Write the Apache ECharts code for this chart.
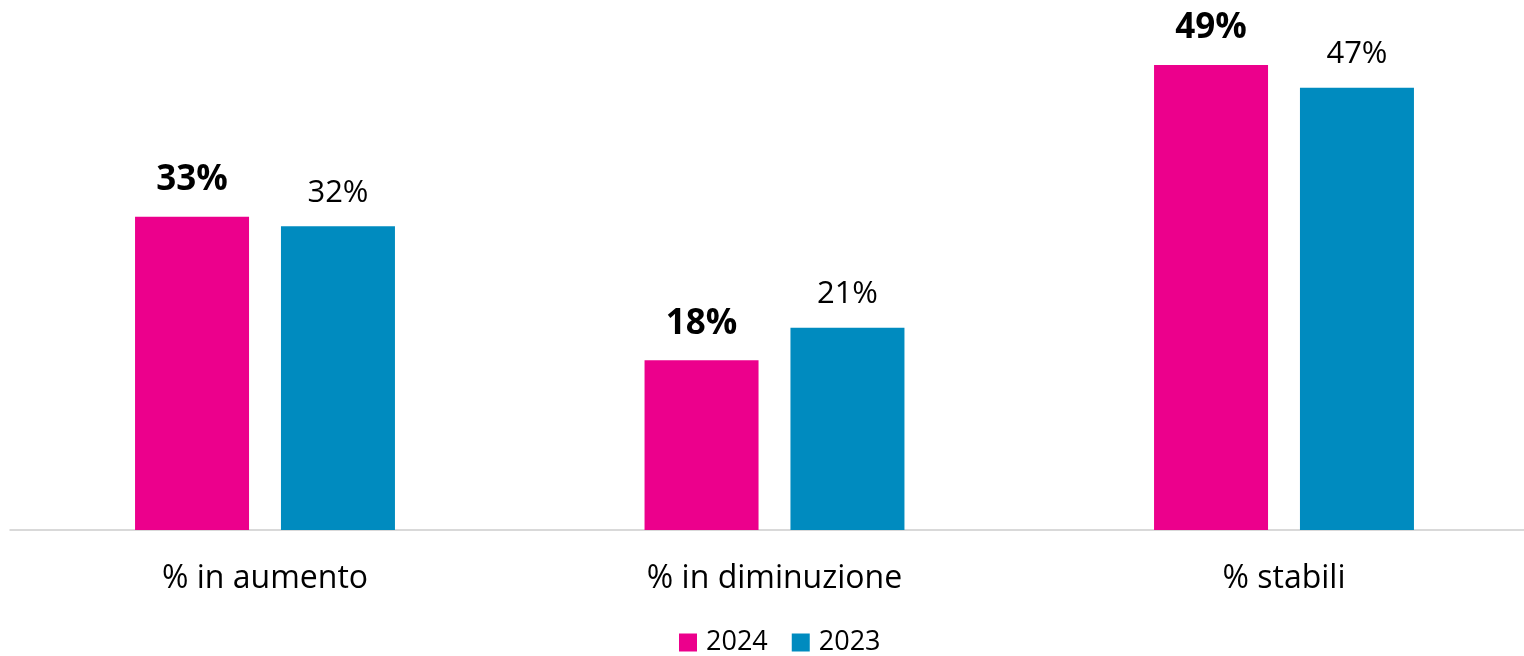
<!DOCTYPE html>
<html><head><meta charset="utf-8">
<script src="https://cdn.jsdelivr.net/npm/echarts@6/dist/echarts.min.js"></script>
<style>html,body{margin:0;padding:0;background:#fff}#c{width:1524px;height:656px}</style>
</head><body><div id="c"></div>
<script>
const categories = ['% in aumento', '% in diminuzione', '% stabili'];
const series2024 = [33.0, 17.9, 49.0];
const series2023 = [32.0, 21.3, 46.6];
const seriesNames = ['2024', '2023'];
const font = '"Open Sans", "Liberation Sans", sans-serif';
const pct = p => Math.round(p.value) + '%';
const chart = echarts.init(document.getElementById('c'));
chart.setOption({
  animation: false,
  textStyle: { fontFamily: font },
  grid: { left: 10.25, top: 55.5, width: 1528.5, bottom: 126, containLabel: false, outerBoundsMode: 'none' },
  legend: {
    bottom: -5, left: 674, itemWidth: 18, itemHeight: 18, itemGap: 24,
    icon: 'rect',
    textStyle: { fontSize: 27, color: '#000', fontFamily: font, padding: [0,0,0,4] },
    data: seriesNames
  },
  xAxis: {
    type: 'category', data: categories,
    axisLine: { lineStyle: { color: '#d9d9d9', width: 2 } },
    axisTick: { show: false },
    axisLabel: { fontSize: 32, color: '#000', margin: 33, fontFamily: font }
  },
  yAxis: { type: 'value', min: 0, max: 50, show: false, splitLine: { show: false } },
  series: [
    { name: seriesNames[0], type: 'bar', data: series2024, barWidth: 114, barGap: '28%',
      itemStyle: { color: '#EC008C' },
      label: { show: true, position: 'top', distance: 19, fontSize: 35, fontWeight: 'bold', color: '#000', formatter: pct, fontFamily: font } },
    { name: seriesNames[1], type: 'bar', data: series2023, barWidth: 114,
      itemStyle: { color: '#008BBF' },
      label: { show: true, position: 'top', distance: 18, fontSize: 31, color: '#000', formatter: pct, fontFamily: font } }
  ]
});
</script></body></html>
